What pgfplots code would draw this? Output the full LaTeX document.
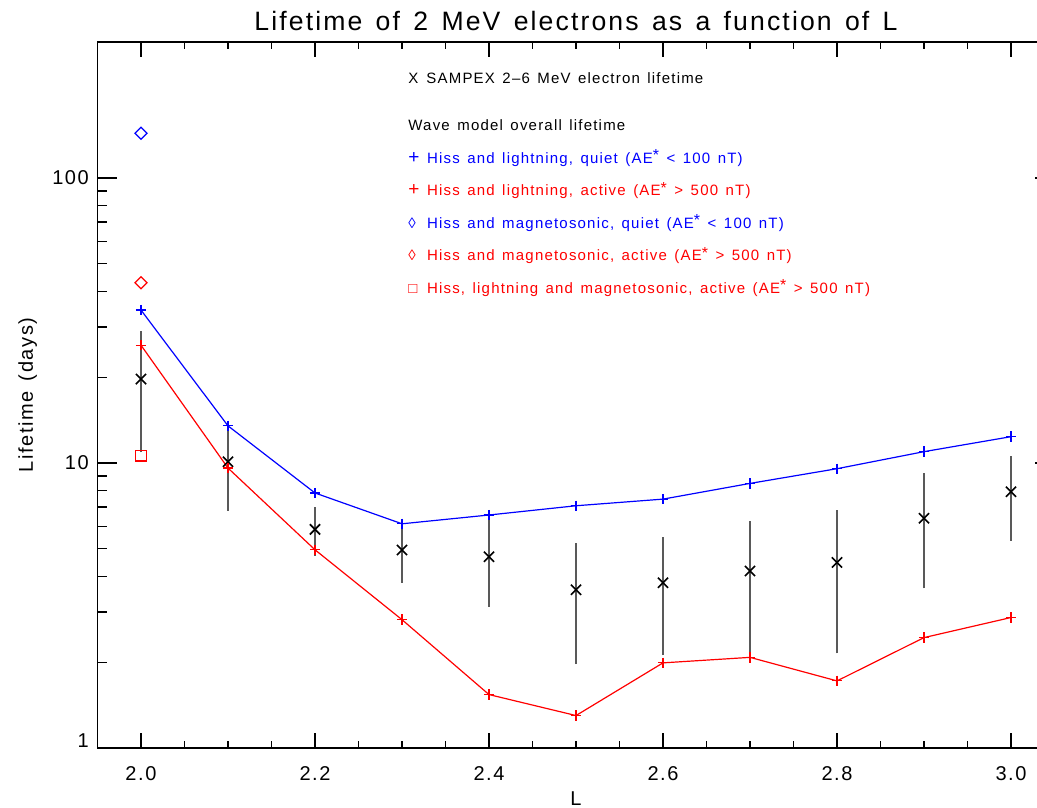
\documentclass[border=0pt]{standalone}
\usepackage{fontspec}
\setmainfont{Liberation Sans}[LetterSpace=8, WordSpace=1.4]
\usepackage{pgfplots}
\usepackage{pgfplotstable}
\pgfplotsset{compat=1.18}

\pgfplotstableread{
L quiet active sampex
2.0 34.4 25.9 19.7
2.1 13.5 9.60 10.1
2.2 7.85 4.96 5.85
2.3 6.12 2.82 4.95
2.4 6.57 1.54 4.69
2.5 7.08 1.30 3.59
2.6 7.47 1.99 3.80
2.7 8.48 2.08 4.18
2.8 9.55 1.72 4.48
2.9 10.96 2.44 6.40
3.0 12.37 2.87 7.93
}\maindata

\pgfplotstableread{
L y
2.0 10.9
2.0 29.1
2.0 nan
2.1 6.80
2.1 13.5
2.1 nan
2.2 4.72
2.2 6.99
2.2 nan
2.3 3.80
2.3 6.11
2.3 nan
2.4 3.13
2.4 6.57
2.4 nan
2.5 1.97
2.5 5.23
2.5 nan
2.6 2.12
2.6 5.49
2.6 nan
2.7 2.10
2.7 6.28
2.7 nan
2.8 2.15
2.8 6.84
2.8 nan
2.9 3.63
2.9 9.20
2.9 nan
3.0 5.34
3.0 10.58
}\bars

\newcommand{\legfont}{\fontsize{7.5}{9}\selectfont}
\newcommand{\aestar}{AE\raisebox{1.2pt}{\fontsize{8}{8}\selectfont*}}
\newcommand{\pl}{\makebox[9.3pt][l]{\fontsize{9.5}{9}\selectfont+}}

\begin{document}
\begin{tikzpicture}
\begin{axis}[
  scale only axis, width=478.5pt, height=353pt,
  xmin=1.95, xmax=3.05, ymin=1, ymax=300, ymode=log,
  xtick={2.0,2.2,2.4,2.6,2.8,3.0},
  xticklabels={2.0,2.2,2.4,2.6,2.8,3.0},
  minor x tick num=3,
  ytick={1,10,100},
  yticklabels={\raisebox{7pt}{1},10,100},
  tick align=inside, xtick pos=both, ytick pos=both,
  major tick length=10pt, minor tick length=5pt,
  every major x tick/.append style={/pgfplots/major tick length=7.3pt},
  every minor x tick/.append style={/pgfplots/minor tick length=3.5pt},
  axis line style={line width=0.65pt},
  every tick/.style={black, line width=0.65pt},
  /pgf/number format/assume math mode=true,
  tick label style={font=\fontsize{10}{12}\selectfont},
  xticklabel style={anchor=base, yshift=-16pt},
  yticklabel style={anchor=east, xshift=-0.8pt},
  title={Lifetime of 2 MeV electrons as a function of L},
  title style={at={(axis description cs:0.5,1)}, anchor=base, yshift=-0.35pt,
    font=\fontsize{13.3}{16}\selectfont},
  xlabel={L},
  xlabel style={at={(axis description cs:0.5,0)}, anchor=base, yshift=-28.6pt,
    font=\fontsize{10}{12}\selectfont},
  ylabel={Lifetime (days)},
  ylabel style={at={(axis description cs:-0.0674,0.5)}, anchor=base,
    font=\fontsize{10}{12}\selectfont},
  clip=false,
]
% SAMPEX error bars
\addplot[black!65, line width=0.95pt, unbounded coords=jump, forget plot]
  table[x=L, y=y] {\bars};
% SAMPEX lifetimes
\addplot[only marks, mark=x, mark size=3.6pt, black, mark options={line width=0.8pt}]
  table[x=L, y=sampex] {\maindata};
% Hiss and lightning, quiet
\addplot[blue, line width=0.6pt, mark=+, mark size=2.6pt, mark options={line width=0.6pt}]
  table[x=L, y=quiet] {\maindata};
% Hiss and lightning, active
\addplot[red, line width=0.6pt, mark=+, mark size=2.6pt, mark options={line width=0.6pt}]
  table[x=L, y=active] {\maindata};
% Hiss and magnetosonic, quiet
\addplot[blue, only marks, mark=square, mark size=2.1pt, mark options={rotate=45, line width=0.6pt}]
  coordinates {(2.0,143.5)};
% Hiss and magnetosonic, active
\addplot[red, only marks, mark=square, mark size=2.1pt, mark options={rotate=45, line width=0.6pt}]
  coordinates {(2.0,42.9)};
% Hiss, lightning and magnetosonic, active
\addplot[red, only marks, mark=square, mark size=2.6pt, mark options={line width=0.6pt}]
  coordinates {(2.0,10.6)};

\node[anchor=base west, inner sep=0pt, font=\legfont, text=black, yshift=-20.65pt]
  at (rel axis cs:0.3245,1) {\makebox[9pt][l]{X}SAMPEX 2--6 MeV electron lifetime};
\node[anchor=base west, inner sep=0pt, font=\legfont, text=black, yshift=-44.35pt]
  at (rel axis cs:0.3245,1) {Wave model overall lifetime};
\node[anchor=base west, inner sep=0pt, font=\legfont, text=blue, yshift=-60.65pt]
  at (rel axis cs:0.3245,1) {\pl Hiss and lightning, quiet (\aestar{} < 100 nT)};
\node[anchor=base west, inner sep=0pt, font=\legfont, text=red, yshift=-76.85pt]
  at (rel axis cs:0.3245,1) {\pl Hiss and lightning, active (\aestar{} > 500 nT)};
\node[anchor=base west, inner sep=0pt, font=\legfont, text=blue, yshift=-93.15pt]
  at (rel axis cs:0.3245,1) {\makebox[9.3pt][l]{◊}Hiss and magnetosonic, quiet (\aestar{} < 100 nT)};
\node[anchor=base west, inner sep=0pt, font=\legfont, text=red, yshift=-109.35pt]
  at (rel axis cs:0.3245,1) {\makebox[9.3pt][l]{◊}Hiss and magnetosonic, active (\aestar{} > 500 nT)};
\node[anchor=base west, inner sep=0pt, font=\legfont, text=red, yshift=-125.65pt]
  at (rel axis cs:0.3245,1) {\makebox[9.3pt][l]{□}Hiss, lightning and magnetosonic, active (\aestar{} > 500 nT)};
\end{axis}
\pgfresetboundingbox
\path[use as bounding box] ([shift={(-48.75pt,-29.5pt)}]current axis.south west)
  rectangle ([shift={(469.75pt,21pt)}]current axis.north west);
\end{tikzpicture}
\end{document}
